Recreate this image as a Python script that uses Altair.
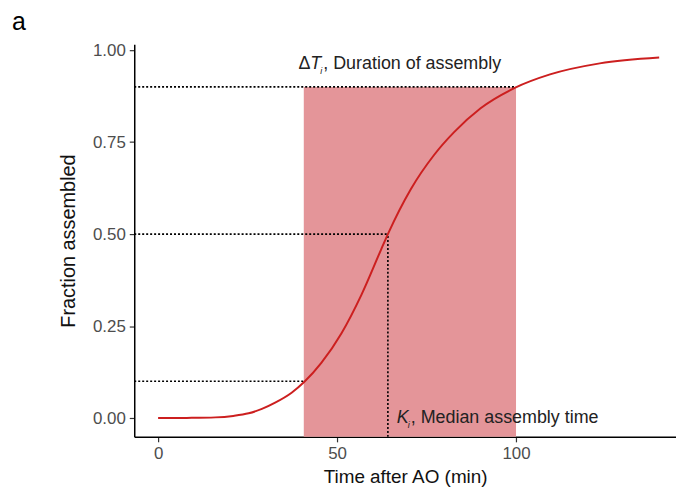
import altair as alt
import pandas as pd

# Curve
time_min = [0, 8, 16, 21, 25.3, 29, 32.7, 37.3, 40.8, 45.6, 51.2, 56.8, 62.3, 64.2, 70.6, 77.1, 82.7, 90.1, 99.8, 109.5, 123.4, 140]
fraction = [0.0, 0.0005, 0.002, 0.006, 0.013, 0.025, 0.042, 0.069, 0.098, 0.15, 0.23, 0.335, 0.458, 0.50, 0.622, 0.715, 0.777, 0.842, 0.898, 0.934, 0.964, 0.98]

# Key values
t10, k_med, t90 = 40.7, 64.2, 100.0
levels = [0.1, 0.5, 0.9]

X_MIN, X_MAX = -6.67, 144.7
Y_MIN, Y_MAX = -0.051, 1.016

curve = pd.DataFrame({"t": time_min, "f": fraction})
band = pd.DataFrame({"x1": [t10], "x2": [t90], "y1": [Y_MIN], "y2": [0.9]})
hseg = pd.DataFrame({"x1": [X_MIN] * 3, "x2": [t10, k_med, t90], "y": levels})
vseg = pd.DataFrame({"x": [k_med], "y1": [Y_MIN], "y2": [0.5]})

xs = alt.Scale(domain=[X_MIN, X_MAX], nice=False, zero=False)
ys = alt.Scale(domain=[Y_MIN, Y_MAX], nice=False, zero=False)

rect = alt.Chart(band).mark_rect(color="#e49599", opacity=1).encode(
    x=alt.X("x1:Q", scale=xs, title="Time after AO (min)",
            axis=alt.Axis(values=[0, 50, 100], format="d")),
    x2="x2:Q",
    y=alt.Y("y1:Q", scale=ys, title="Fraction assembled",
            axis=alt.Axis(values=[0, 0.25, 0.5, 0.75, 1.0], format=".2f")),
    y2="y2:Q",
)

dash = [2, 2]
hrules = alt.Chart(hseg).mark_rule(color="black", strokeDash=dash, strokeWidth=1.6).encode(
    x=alt.X("x1:Q", scale=xs), x2="x2:Q", y=alt.Y("y:Q", scale=ys)
)
vrule = alt.Chart(vseg).mark_rule(color="black", strokeDash=dash, strokeWidth=1.6).encode(
    x=alt.X("x:Q", scale=xs), y=alt.Y("y1:Q", scale=ys), y2="y2:Q"
)

line = alt.Chart(curve).mark_line(color="#cc1f1f", strokeWidth=2, interpolate="monotone").encode(
    x=alt.X("t:Q", scale=xs), y=alt.Y("f:Q", scale=ys)
)

font = "Liberation Sans"
FS = 18
# Annotation: ΔT_i, Duration of assembly
ann_top = pd.DataFrame({"x": [39.2], "y": [0.962]})
base_top = alt.Chart(ann_top).encode(x=alt.X("x:Q", scale=xs), y=alt.Y("y:Q", scale=ys))
t1 = base_top.mark_text(text="Δ", align="left", baseline="middle", font=font, fontSize=FS, color="#222")
t2 = base_top.mark_text(text="T", align="left", baseline="middle", font=font, fontSize=FS,
                        fontStyle="italic", color="#222", dx=12)
t3 = base_top.mark_text(text="i", align="left", baseline="middle", font=font, fontSize=9,
                        fontStyle="italic", color="#222", dx=22, dy=7)
t4 = base_top.mark_text(text=", Duration of assembly", align="left", baseline="middle", font=font,
                        fontSize=FS, color="#222", dx=25)

ann_bot = pd.DataFrame({"x": [66.7], "y": [0.0]})
base_bot = alt.Chart(ann_bot).encode(x=alt.X("x:Q", scale=xs), y=alt.Y("y:Q", scale=ys))
b1 = base_bot.mark_text(text="K", align="left", baseline="middle", font=font, fontSize=FS,
                        fontStyle="italic", color="#222")
b2 = base_bot.mark_text(text="i", align="left", baseline="middle", font=font, fontSize=9,
                        fontStyle="italic", color="#222", dx=11, dy=7)
b3 = base_bot.mark_text(text=", Median assembly time", align="left", baseline="middle", font=font,
                        fontSize=FS, color="#222", dx=14)

chart = alt.layer(rect, hrules, vrule, line, t1, t2, t3, t4, b1, b2, b3).properties(
    width=545, height=395,
    autosize=alt.AutoSizeParams(type="none"),
    padding={"left": 127, "top": 35, "right": 0, "bottom": 51},
    title=alt.TitleParams("a", anchor="start", frame="group", dx=-123, offset=6,
                          font=font, fontSize=25, fontWeight="normal", color="black"),
).configure_view(stroke=None).configure_axis(
    grid=False, domainColor="black", domainWidth=1.5, tickColor="#333", tickWidth=1.2, tickSize=5,
    labelFont=font, labelFontSize=17, labelColor="#4d4d4d", labelPadding=4,
    titleFont=font, titleFontSize=20, titleFontWeight="normal", titleColor="#111",
).configure_axisY(titlePadding=14).configure_axisX(titlePadding=6, titleFontSize=19)

chart.save("out.html", embed_options={"renderer": "svg", "actions": False})
